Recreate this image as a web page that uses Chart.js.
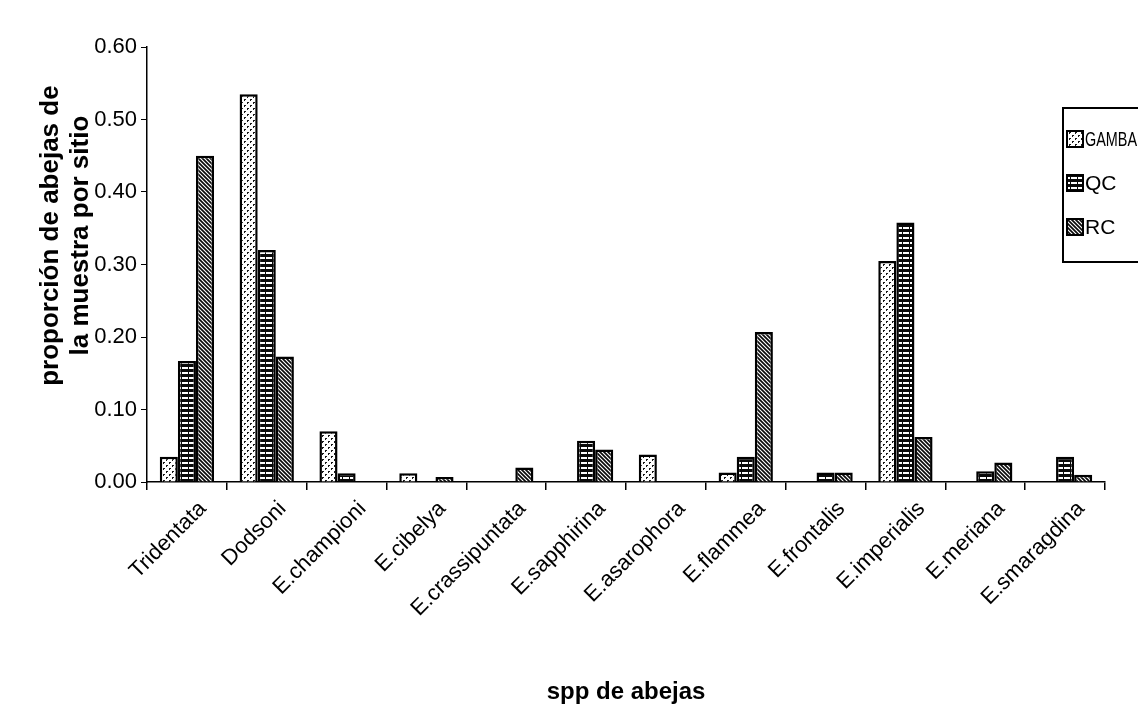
<!DOCTYPE html>
<html>
<head>
<meta charset="utf-8">
<script src="https://cdn.jsdelivr.net/npm/chart.js@4.4.1/dist/chart.umd.min.js"></script>
<style>
    html, body { margin: 0; padding: 0; background: #ffffff; }
    #wrap { width: 1138px; height: 713px; position: relative; }
</style>
</head>
<body>
<div id="wrap"><canvas id="beesChart"></canvas></div>
<script>
const categories = ['Tridentata', 'Dodsoni', 'E.championi', 'E.cibelya', 'E.crassipuntata', 'E.sapphirina',
    'E.asarophora', 'E.flammea', 'E.frontalis', 'E.imperialis', 'E.meriana', 'E.smaragdina'];
const gambaValues = [0.035, 0.535, 0.070, 0.012, 0, 0, 0.038, 0.013, 0, 0.305, 0, 0];
const qcValues = [0.167, 0.320, 0.012, 0, 0, 0.057, 0, 0.035, 0.013, 0.358, 0.015, 0.035];
const rcValues = [0.450, 0.173, 0, 0.007, 0.020, 0.045, 0, 0.207, 0.013, 0.062, 0.027, 0.010];
const seriesNames = ['GAMBA', 'QC', 'RC'];
const yTicks = [0, 0.1, 0.2, 0.3, 0.4, 0.5, 0.6];

function makePattern(kind) {
    const tile = document.createElement('canvas');
    const c = tile.getContext('2d');
    if (kind === 'dots') {
        tile.width = 6; tile.height = 6;
        c.fillStyle = '#ffffff';
        c.fillRect(0, 0, 6, 6);
        c.fillStyle = '#1a1a1a';
        c.fillRect(1, 0, 2, 1);
        c.fillRect(1, 1, 1, 1);
        c.fillRect(4, 3, 2, 1);
        c.fillRect(4, 4, 1, 1);
    } else if (kind === 'hlines') {
        tile.width = 7; tile.height = 5;
        c.fillStyle = '#0a0a0a';
        c.fillRect(0, 0, 7, 5);
        c.fillStyle = '#ffffff';
        c.fillRect(0, 2, 6, 2);
    } else {
        tile.width = 4; tile.height = 4;
        c.fillStyle = '#ffffff';
        c.fillRect(0, 0, 4, 4);
        c.strokeStyle = '#0a0a0a';
        c.lineWidth = 1.7;
        c.beginPath();
        c.moveTo(-1, -1); c.lineTo(5, 5);
        c.moveTo(-1, 3); c.lineTo(1, 5);
        c.moveTo(3, -1); c.lineTo(5, 1);
        c.stroke();
    }
    return c.createPattern(tile, 'repeat');
}

const canvas = document.getElementById('beesChart');
const fills = [makePattern('dots'), makePattern('hlines'), makePattern('diag')];

// boxed legend at the right edge, partly cut off like the scan
const legendBox = {
    id: 'legendBox',
    afterDraw(chart) {
        const g = chart.ctx;
        g.save();
        g.strokeStyle = '#000000';
        g.lineWidth = 2;
        g.fillStyle = '#ffffff';
        g.fillRect(1063, 108, 80, 154);
        g.strokeRect(1063, 108, 80, 154);
        g.font = '21px "Liberation Sans", Arial, sans-serif';
        g.textBaseline = 'middle';
        chart.data.datasets.forEach(function (ds, i) {
            const cy = 139 + i * 44;
            g.fillStyle = ds.backgroundColor;
            g.fillRect(1067, cy - 8, 16, 16);
            g.lineWidth = 2;
            g.strokeRect(1067, cy - 8, 16, 16);
            g.fillStyle = '#000000';
            g.fillText(ds.label, 1085, cy + 1, 52);
        });
        g.restore();
    }
};

new Chart(canvas, {
    type: 'bar',
    data: {
        labels: categories,
        datasets: [
            { label: seriesNames[0], data: gambaValues, backgroundColor: fills[0] },
            { label: seriesNames[1], data: qcValues, backgroundColor: fills[1] },
            { label: seriesNames[2], data: rcValues, backgroundColor: fills[2] }
        ]
    },
    options: {
        responsive: true,
        maintainAspectRatio: false,
        animation: false,
        layout: {
            padding: { left: 36, right: 33, top: 47, bottom: 6 }
        },
        datasets: {
            bar: {
                borderColor: '#000000',
                borderWidth: 2.5,
                categoryPercentage: 0.68,
                barPercentage: 1.0
            }
        },
        scales: {
            x: {
                grid: {
                    offset: true,
                    drawOnChartArea: false,
                    drawTicks: true,
                    tickLength: 8,
                    color: '#000000',
                    lineWidth: 1.5
                },
                border: { color: '#000000', width: 1.5 },
                ticks: {
                    autoSkip: false,
                    maxRotation: 45,
                    minRotation: 45,
                    labelOffset: 16,
                    padding: 6,
                    color: '#000000',
                    font: { family: '"Liberation Sans", Arial, sans-serif', size: 22 }
                },
                title: {
                    display: true,
                    text: 'spp de abejas',
                    color: '#000000',
                    font: { family: '"Liberation Sans", Arial, sans-serif', size: 24, weight: 'bold' },
                    padding: { top: 0, bottom: 0 }
                },
                afterFit: function (scale) {
                    scale.height = 713 - 6 - 482;
                }
            },
            y: {
                min: 0,
                max: 0.6,
                afterBuildTicks: function (scale) {
                    scale.ticks = yTicks.map(function (v) { return { value: v }; });
                },
                grid: {
                    drawOnChartArea: false,
                    drawTicks: true,
                    tickLength: 6,
                    color: '#000000',
                    lineWidth: 1
                },
                border: { color: '#000000', width: 1.5 },
                ticks: {
                    color: '#000000',
                    padding: 4,
                    font: { family: '"Liberation Sans", Arial, sans-serif', size: 22 },
                    callback: function (v) { return Number(v).toFixed(2); }
                },
                title: {
                    display: true,
                    // leading spaces nudge the block upward, as in the scan
                    text: ['        proporción de abejas de', '        la muestra por sitio'],
                    color: '#000000',
                    font: { family: '"Liberation Sans", Arial, sans-serif', size: 26, weight: 'bold', lineHeight: 1.15 },
                    padding: { top: 0, bottom: 0 }
                },
                afterFit: function (scale) {
                    scale.width = 147 - 36;
                }
            }
        },
        plugins: {
            legend: { display: false },
            tooltip: { enabled: false }
        }
    },
    plugins: [legendBox]
});
</script>
</body>
</html>
